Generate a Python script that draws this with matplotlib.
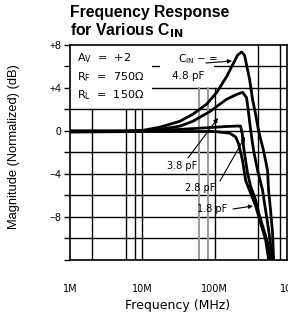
import matplotlib
matplotlib.use("Agg")
import matplotlib.pyplot as plt
from matplotlib.patches import Rectangle

# ---- data (frequency in MHz, magnitude in dB) ----
f_48 = [1, 3, 6, 10, 17.4, 32.9, 49.7, 77.6, 107, 146, 177, 207, 236, 259, 276, 304, 334, 368, 405,
        474, 538, 556, 592, 631, 652]
m_48 = [0, 0, 0, 0.05, 0.35, 0.9, 1.55, 2.5, 3.6, 5.05, 6.15, 7.05, 7.35, 7.05, 6.15, 4.8, 2.95, 1.56, 0.0,
        -1.83, -3.67, -5.5, -7.34, -9.45, -11.9]

f_38 = [1, 3, 6, 10, 17.4, 32.9, 49.7, 85.3, 146, 201, 243, 276, 294, 314, 345, 392, 459, 505, 556, 631]
m_38 = [0, 0, 0, 0, 0.15, 0.45, 0.9, 1.8, 2.95, 3.4, 3.6, 3.1, 1.7, 0.1, -1.8, -3.67, -5.5, -7.34, -9.17, -11.9]

f_28 = [1, 3, 10, 32.9, 77.6, 146, 201, 228, 241, 251, 268, 285, 314, 368, 405, 459, 538, 592]
m_28 = [-0.05, -0.05, 0, 0.15, 0.3, 0.42, 0.46, 0.46, -0.28, -1.47, -2.75, -3.94, -5.14, -6.42, -7.61,
        -8.81, -10.37, -11.9]

f_18 = [1, 10, 100, 117, 161, 195, 214, 243, 268, 314, 368, 431, 505, 556]
m_18 = [-0.1, -0.05, -0.05, -0.1, -0.2, -0.55, -1.19, -2.75, -4.59, -5.78, -6.97, -8.53, -10.09, -11.9]

x_ticks = [1, 10, 100, 1000]
x_tick_labels = ["1M", "10M", "100M", "1G"]
y_ticks = [-12, -10, -8, -6, -4, -2, 0, 2, 4, 6, 8]
y_tick_labels = ["", "", "\u22128", "", "\u22124", "", "0", "", "+4", "", "+8"]

grid_low = [2, 6, 8, 10]       # vertical lines up to +2 dB
grid_mid_gray = [60, 80]       # gray vertical lines up to +4 dB
grid_mid = [100]               # black vertical line up to +4 dB
grid_full = [400, 800]         # full-height vertical lines

W, H = 288, 317
fig = plt.figure(figsize=(W / 100, H / 100), dpi=100)
L, R, T, B = 70, 287, 45, 260
ax = fig.add_axes([L / W, 1 - B / H, (R - L) / W, (B - T) / H])

ax.set_xscale("log")
ax.set_xlim(1, 1000)
ax.set_ylim(-12, 8)

def yfrac(v):
    return (v + 12) / 20

for yv in y_ticks[1:-1]:
    ax.axhline(yv, color="black", lw=1.0, zorder=1)
for xv in grid_low:
    ax.axvline(xv, ymax=yfrac(2), color="black", lw=1.0, zorder=1)
for xv in grid_mid_gray:
    ax.axvline(xv, ymax=yfrac(4), color="#999999", lw=1.4, zorder=1)
for xv in grid_mid:
    ax.axvline(xv, ymax=yfrac(4), color="black", lw=1.0, zorder=1)
for xv in grid_full:
    ax.axvline(xv, color="black", lw=1.0, zorder=1)

def ax_frac(px, py):
    return (px - L) / (R - L), (B - py) / (B - T)

# white boxes behind text annotations
x0, y0 = ax_frac(70, 104)
x1, y1 = ax_frac(152, 45)
ax.add_patch(Rectangle((x0, y0), x1 - x0, y1 - y0, transform=ax.transAxes,
                       facecolor="white", edgecolor="none", zorder=2))
x0, y0 = ax_frac(160, 84)
x1, y1 = ax_frac(214, 45)
ax.add_patch(Rectangle((x0, y0), x1 - x0, y1 - y0, transform=ax.transAxes,
                       facecolor="white", edgecolor="none", zorder=2))

for fx, my in [(f_48, m_48), (f_38, m_38), (f_28, m_28), (f_18, m_18)]:
    ax.plot(fx, my, color="black", lw=2.0, zorder=4, solid_joinstyle="round")

ax.set_xticks(x_ticks)
ax.set_xticklabels(x_tick_labels, fontsize=7, family="DejaVu Sans")
ax.minorticks_off()
ax.tick_params(axis="x", length=0, pad=17)
ax.set_yticks(y_ticks)
ax.set_yticklabels(y_tick_labels, fontsize=7.5, family="Liberation Sans")
ax.tick_params(axis="y", length=4, width=1, pad=2, direction="out")
for s in ax.spines.values():
    s.set_linewidth(1.2)
    s.set_zorder(5)

def t(px, py, s, ha="left", fs=7):
    xa, ya = ax_frac(px, py)
    ax.text(xa, ya, s, transform=ax.transAxes, fontsize=fs, family="DejaVu Sans",
            ha=ha, va="center", zorder=6)

t(77, 58, r"A$_\mathregular{V}$  =  +2", fs=8)
t(77, 77, r"R$_\mathregular{F}$  =  750$\Omega$", fs=8)
t(77, 95, r"R$_\mathregular{L}$  =  150$\Omega$", fs=8)
t(178, 59, r"C$_\mathregular{IN}$ $-$ =", fs=7.5)
t(172, 76, "4.8 pF", fs=7.5)
t(182, 166, "3.8 pF", ha="center")
t(200, 188, "2.8 pF", ha="center")
t(212, 209, "1.8 pF", ha="center")

def arrow(p0, p1):
    ax.annotate("", xy=ax_frac(*p1), xytext=ax_frac(*p0), xycoords="axes fraction",
                textcoords="axes fraction",
                arrowprops=dict(arrowstyle="-|>", color="black", lw=0.8,
                                mutation_scale=6, shrinkA=0, shrinkB=0), zorder=6)

arrow((206, 63), (232, 61))
arrow((188, 158), (218, 118))
arrow((220, 181), (245, 137))
arrow((233, 209), (253, 206))

fig.text(70 / W, 1 - 13 / H, "Frequency Response", fontsize=11.3, fontweight="bold",
         family="Liberation Sans", ha="left", va="center")
fig.text(70 / W, 1 - 31 / H, r"for Various C$_\mathbf{IN}$", fontsize=11.3, fontweight="bold",
         family="Liberation Sans", ha="left", va="center")
fig.text(178 / W, 1 - 306 / H, "Frequency (MHz)", fontsize=9, family="DejaVu Sans",
         ha="center", va="center")
fig.text(14 / W, 1 - 147 / H, "Magnitude (Normalized) (dB)", fontsize=9.3,
         family="Liberation Sans", ha="center", va="center", rotation=90)

fig.savefig("out.png", dpi=100)
